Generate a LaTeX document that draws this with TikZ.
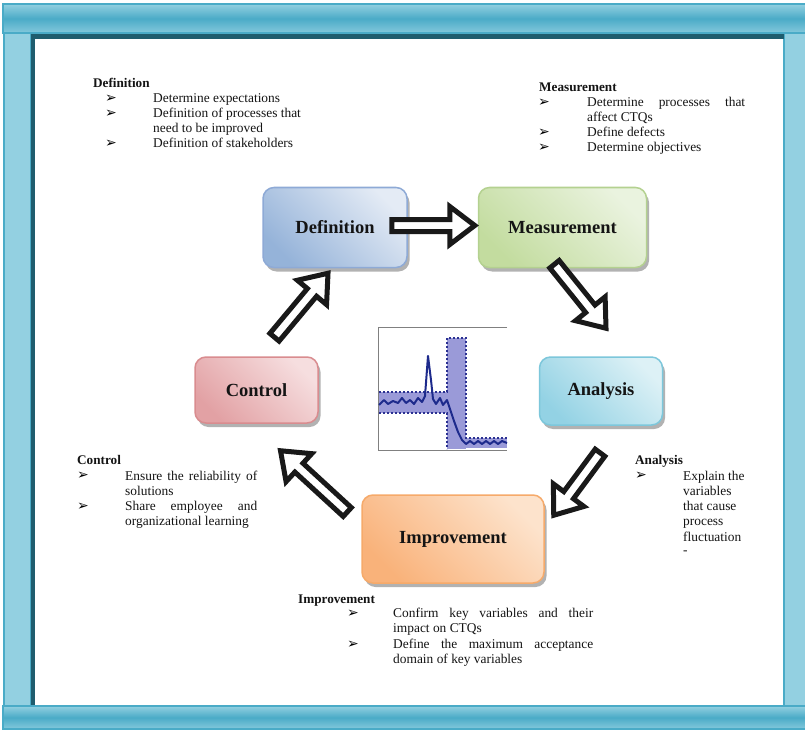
\documentclass[tikz,border=0pt]{standalone}
\usepackage{fontspec}
\setmainfont{Liberation Serif}
\newfontfamily\symfont{DejaVu Sans}
\usetikzlibrary{calc,shadows}

\definecolor{frameteal}{HTML}{4AABC7}
\definecolor{framelight}{HTML}{93D0E1}
\definecolor{framedark}{HTML}{1F5D6E}
\definecolor{defdark}{HTML}{95B3D9}
\definecolor{deflight}{HTML}{E4EBF5}
\definecolor{defedge}{HTML}{8EAAD6}
\definecolor{measdark}{HTML}{C3DC9F}
\definecolor{measlight}{HTML}{EAF3DF}
\definecolor{measedge}{HTML}{B4D190}
\definecolor{anadark}{HTML}{93D2E4}
\definecolor{analight}{HTML}{DDF1F6}
\definecolor{anaedge}{HTML}{7DC7DB}
\definecolor{impdark}{HTML}{F9B27A}
\definecolor{implight}{HTML}{FDE3CC}
\definecolor{impedge}{HTML}{F6AA6A}
\definecolor{ctrldark}{HTML}{E2A1A4}
\definecolor{ctrllight}{HTML}{F6DEDF}
\definecolor{ctrledge}{HTML}{D98C8F}
\definecolor{bandfill}{HTML}{9A9AD8}
\definecolor{bandedge}{HTML}{2B3192}
\definecolor{trace}{HTML}{1D2A8C}

% white block arrow with a heavy black outline, from #1 to #2
\newcommand\blockarrow[2]{%
  \coordinate (ba-s) at (#1);
  \coordinate (ba-e) at (#2);
  \coordinate (ba-h) at ($(ba-e)!25pt!(ba-s)$);
  \draw[barrow] ($(ba-s)!6pt!90:(ba-e)$) -- ($(ba-h)!6pt!-90:(ba-s)$)
    -- ($(ba-h)!19pt!-90:(ba-s)$) -- (ba-e) -- ($(ba-h)!19pt!90:(ba-s)$)
    -- ($(ba-h)!6pt!90:(ba-s)$) -- ($(ba-s)!6pt!-90:(ba-e)$) -- cycle;
}

\begin{document}
\begin{tikzpicture}[x=1pt,y=-1pt,
  stage/.style={draw, line width=1.5pt, rounded corners=11pt, inner sep=0pt,
    font=\bfseries\fontsize{18.5}{22}\selectfont, text=black!92,
    drop shadow={shadow xshift=2.5pt, shadow yshift=-4pt, fill=black!55, opacity=0.55}},
  barrow/.style={draw=black!90, fill=white, line width=5pt, miter limit=20},
  body/.style={anchor=base west, inner sep=0pt, yshift=-1.5pt, font=\fontsize{13.4}{15}\selectfont, text=black!92},
  head/.style={body, font=\bfseries\fontsize{13.2}{15}\selectfont},
  bul/.style={anchor=west, inner sep=0pt, yshift=-1.5pt, font=\symfont\fontsize{14}{14}\selectfont},
  bar/.style={draw=frameteal, line width=1.2pt, top color=framelight, bottom color=framelight!80!frameteal, middle color=frameteal},
  post/.style={draw=frameteal, line width=1.2pt, fill=framelight}
]
\useasboundingbox (0,0) rectangle (805,730);

% ---- frame ----
\fill[white] (31,33) rectangle (784,706);
\draw[post] (4,33) rectangle (31,706);
\draw[post] (784,33) rectangle (806,706);
\fill[framedark] (31,33) rectangle (784,39);
\fill[framedark] (31,33) rectangle (35,706);
\draw[bar] (3,4) rectangle (807,33);
\draw[bar] (3,706) rectangle (807,729);

% ---- chart in the middle ----
\fill[bandfill] (379,392) rectangle (447,413);
\fill[bandfill] (447,338) rectangle (466,449);
\fill[bandfill] (466,438) rectangle (507,448);
\draw[bandedge, line width=1.3pt, dash pattern=on 2pt off 2pt]
  (379,392) -- (447,392) -- (447,338) -- (466,338) -- (466,438) -- (507,438);
\draw[bandedge, line width=1.3pt, dash pattern=on 2pt off 2pt]
  (379,413) -- (447,413) -- (447,449);
\draw[gray, line width=1pt] (507,327) -- (378,327) -- (378,450) -- (507,450);
\draw[trace, line width=2pt, line join=round]
  (379,405) -- (384,400) -- (388,404) -- (393,401) -- (398,403) -- (402,398)
  -- (406,403) -- (410,400) -- (414,404) -- (418,398) -- (422,402) -- (425,396)
  -- (428,356) -- (431,380) -- (433,399) -- (436,404) -- (440,398) -- (443,405)
  -- (447,400) -- (450,409) -- (454,421) -- (458,432) -- (462,440) -- (466,444)
  -- (470,441) -- (474,444) -- (478,441) -- (482,444) -- (486,441) -- (490,444)
  -- (494,441) -- (498,444) -- (502,441) -- (507,443);

% ---- the five stages ----
\node[stage, draw=defedge, top color=deflight, bottom color=defdark, shading angle=-45,
  minimum width=144pt, minimum height=80pt] (defn) at (335,227.5) {Definition};
\node[stage, draw=measedge, top color=measlight, bottom color=measdark, shading angle=-45,
  minimum width=168pt, minimum height=80pt] (meas) at (562.5,227.5) {Measurement};
\node[stage, draw=anaedge, top color=analight, bottom color=anadark, shading angle=-45,
  minimum width=123pt, minimum height=68pt] (ana) at (601,391) {Analysis};
\node[stage, draw=impedge, top color=implight, bottom color=impdark, shading angle=-45,
  minimum width=182pt, minimum height=88pt] (imp) at (453,539) {\raisebox{3pt}{Improvement}};
\node[stage, draw=ctrledge, top color=ctrllight, bottom color=ctrldark, shading angle=-45,
  minimum width=123pt, minimum height=66pt] (ctrl) at (256.5,390) {Control};

% ---- cycle arrows ----
\blockarrow{$(defn.east)+(-16,-2)$}{$(meas.west)+(-3,-2)$}
\blockarrow{$(meas.south)+(-8,-4)$}{$(ana.north)+(5,-28)$}
\blockarrow{$(ana.south)+(-1,27)$}{$(imp.north east)+(9,21)$}
\blockarrow{$(imp.west)+(-14,-27)$}{$(ctrl.south)+(24,27)$}
\blockarrow{$(ctrl.north)+(18,-19)$}{$(defn.south)+(-7,5)$}

% ---- Definition notes ----
\node[head] (dh) at (93,86.5) {Definition};
\node[bul] (db1) at (105,97) {➢};
\node[body] (dt1) at (153,101.5) {Determine expectations};
\node[bul] (db2) at (105,112) {➢};
\node[body] (dt2) at (153,116.5) {Definition of processes that};
\node[body] (dt3) at (153,131.5) {need to be improved};
\node[bul] (db3) at (105,142) {➢};
\node[body] (dt4) at (153,146.5) {Definition of stakeholders};

% ---- Measurement notes ----
\node[head] (mh) at (539,90) {Measurement};
\node[bul] (mb1) at (538,101) {➢};
\node[body] (mt1) at (587,105.5) {\makebox[158pt][s]{Determine processes that}};
\node[body] (mt2) at (587,120.5) {affect CTQs};
\node[bul] (mb2) at (538,131) {➢};
\node[body] (mt3) at (587,135.5) {Define defects};
\node[bul] (mb3) at (538,146) {➢};
\node[body] (mt4) at (587,150.5) {Determine objectives};

% ---- Control notes ----
\node[head] (ch) at (77,463) {Control};
\node[bul] (cb1) at (77,474) {➢};
\node[body] (ct1) at (125,478.5) {\makebox[132pt][s]{Ensure the reliability of}};
\node[body] (ct2) at (125,494) {solutions};
\node[bul] (cb2) at (77,505) {➢};
\node[body] (ct3) at (125,509) {\makebox[132pt][s]{Share employee and}};
\node[body] (ct4) at (125,524) {organizational learning};

% ---- Analysis notes ----
\node[head] (ah) at (635,463) {Analysis};
\node[bul] (ab1) at (635,474) {➢};
\node[body] (at1) at (683,478.5) {Explain the};
\node[body] (at2) at (683,494) {variables};
\node[body] (at3) at (683,509) {that cause};
\node[body] (at4) at (683,524) {process};
\node[body] (at5) at (683,540) {fluctuation};
\node[body, yshift=0pt] (at6) at (683,553) {-};

% ---- Improvement notes ----
\node[head] (ih) at (298,602) {Improvement};
\node[bul] (ib1) at (347,612) {➢};
\node[body] (it1) at (393,616) {\makebox[200pt][s]{Confirm key variables and their}};
\node[body] (it2) at (393,631) {impact on CTQs};
\node[bul] (ib2) at (347,643) {➢};
\node[body] (it3) at (393,647) {\makebox[200pt][s]{Define the maximum acceptance}};
\node[body] (it4) at (393,662) {domain of key variables};
\end{tikzpicture}
\end{document}
